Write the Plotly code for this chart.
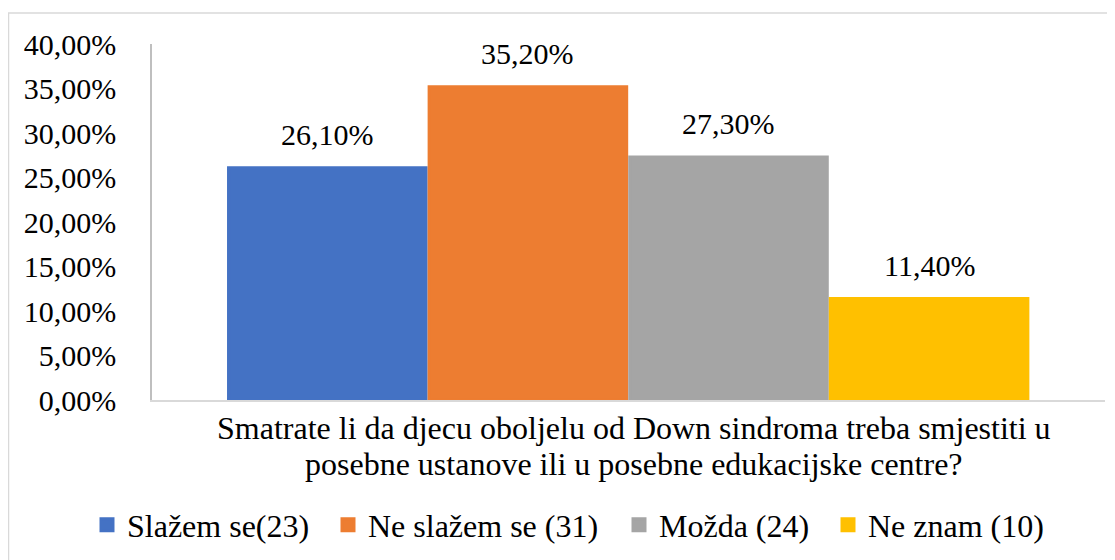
import plotly.graph_objects as go

categories = ["Slažem se(23)", "Ne slažem se (31)", "Možda (24)", "Ne znam (10)"]
values = [0.261, 0.352, 0.273, 0.114]
colors = ["#4472C4", "#ED7D31", "#A5A5A5", "#FFC000"]
question_lines = ["Smatrate li da djecu oboljelu od Down sindroma treba smjestiti u",
                  "posebne ustanove ili u posebne edukacijske centre?"]
y_ticks = [0, 0.05, 0.10, 0.15, 0.20, 0.25, 0.30, 0.35, 0.40]

FONT = "Times New Roman, Liberation Serif, serif"
FS = 30      # ticks and data labels
FS_BIG = 32  # question text and legend
OFF = 8  # page body margin
W, H = 1115 - OFF, 560 - OFF
L, R, T, B = 152 - OFF, 18 - OFF, 44 - OFF, 168 - OFF
pw = W - L - R
ph = H - T - B


def px_x(x):
    return (x - OFF - L) / pw


def px_y(y):
    return (H - B - (y - OFF)) / ph


legend_names = ["legend", "legend2", "legend3", "legend4"]
legend_px = [87, 328, 619, 828]
LW = 3

fig = go.Figure()
for i, (c, v, col) in enumerate(zip(categories, values, colors)):
    fig.add_trace(go.Bar(x=[i], y=[v], name=c, marker_color=col, width=1.0 - LW / 199,
                         marker_line=dict(width=LW, color=col), showlegend=True,
                         legend=legend_names[i]))
    fig.add_annotation(x=i, y=v, xref="x", yref="y", text=f"{v:.2%}".replace(".", ","),
                       showarrow=False, yanchor="bottom", yshift=15,
                       font=dict(family=FONT, size=FS, color="black"))

for line, yc in zip(question_lines, [428, 464]):
    fig.add_annotation(x=px_x(634), y=px_y(yc), xref="paper", yref="paper",
                       text=line, showarrow=False, xanchor="center", yanchor="middle",
                       borderpad=0,
                       font=dict(family=FONT, size=FS_BIG, color="black"))

fig.add_shape(type="rect", xref="paper", yref="paper",
              x0=px_x(8.5), x1=px_x(1130), y0=px_y(575), y1=px_y(13),
              line=dict(color="#d9d9d9", width=1.5), fillcolor="rgba(0,0,0,0)", layer="below")

legend_layout = {}
for name, lx in zip(legend_names, legend_px):
    legend_layout[name] = dict(orientation="h", x=px_x(lx), xanchor="left",
                               y=px_y(525), yanchor="middle",
                               bgcolor="rgba(0,0,0,0)", borderwidth=0,
                               font=dict(family=FONT, size=FS_BIG, color="black"))

fig.update_layout(
    width=W, height=H,
    margin=dict(l=L, r=R, t=T, b=B, autoexpand=False),
    paper_bgcolor="white", plot_bgcolor="white",
    barmode="overlay",
    separators=",.",
    font=dict(family=FONT, size=FS, color="black"),
    showlegend=True,
    xaxis=dict(range=[-0.874, 3.877], showticklabels=False, showgrid=False,
               zeroline=False, showline=True, linecolor="#d9d9d9", linewidth=1.5,
               ticks="", automargin=False),
    yaxis=dict(range=[0, 0.40], tickvals=y_ticks, tickformat=".2%", showgrid=False,
               zeroline=False, showline=True, linecolor="#bfbfbf", linewidth=1.5,
               ticks="", ticklabelstandoff=28, automargin=False,
               tickfont=dict(family=FONT, size=FS, color="black")),
    **legend_layout,
)

fig.write_html("out.html")
